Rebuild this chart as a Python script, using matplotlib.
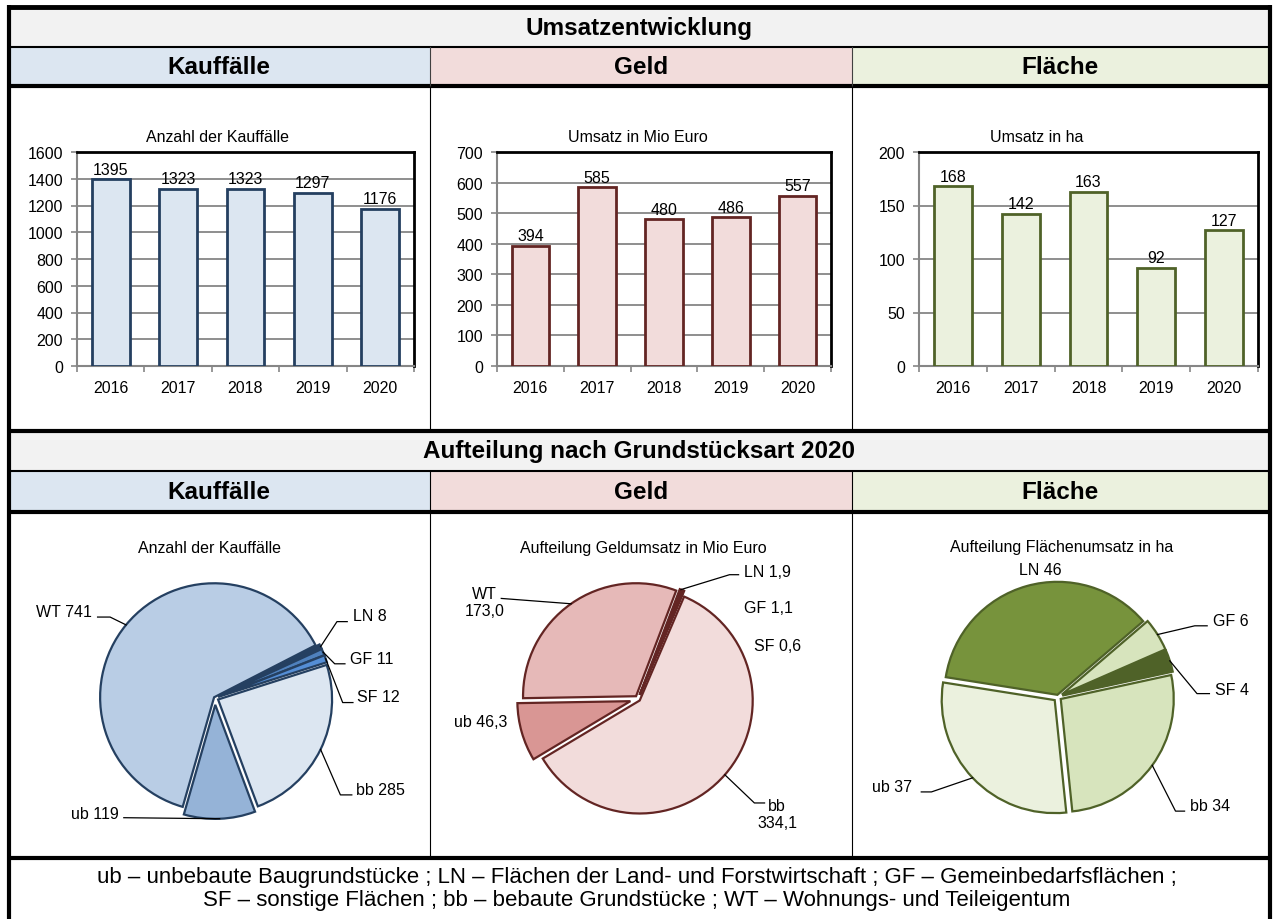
import matplotlib
matplotlib.use('Agg')
import matplotlib.pyplot as plt
from matplotlib.patches import Rectangle
import numpy as np

plt.rcParams['font.family'] = ['Liberation Sans', 'DejaVu Sans']

# --- Daten ---
jahre = ['2016', '2017', '2018', '2019', '2020']
kauffaelle = [1395, 1323, 1323, 1297, 1176]
geldumsatz = [394, 585, 480, 486, 557]
flaechenumsatz = [168, 142, 163, 92, 127]

arten_kf = ['WT', 'LN', 'GF', 'SF', 'bb', 'ub']
anteile_kf = [741, 8, 11, 12, 285, 119]
arten_geld = ['WT', 'LN', 'GF', 'SF', 'bb', 'ub']
anteile_geld = [173.0, 1.9, 1.1, 0.6, 334.1, 46.3]
arten_fl = ['LN', 'GF', 'SF', 'bb', 'ub']
anteile_fl = [46, 6, 4, 34, 37]

legende = ["ub \u2013 unbebaute Baugrundst\u00fccke ; LN \u2013 Fl\u00e4chen der Land- und Forstwirtschaft ; GF \u2013 Gemeinbedarfsfl\u00e4chen ;",
           "SF \u2013 sonstige Fl\u00e4chen ; bb \u2013 bebaute Grundst\u00fccke ; WT \u2013 Wohnungs- und Teileigentum"]

W, H = 1274, 920
fig = plt.figure(figsize=(W / 100, H / 100), dpi=100)


def fbox(l, t, r, b):
    return [l / W, 1 - b / H, (r - l) / W, (b - t) / H]


bg = fig.add_axes([0, 0, 1, 1])
bg.set_xlim(0, W)
bg.set_ylim(H, 0)
bg.axis('off')

# Zellen / Hintergruende
grau = '#f2f2f2'
blau, rot, gruen = '#dce6f1', '#f2dcdb', '#ebf1de'
spalten = [(9, 430), (430, 852), (852, 1269)]
for (y0, y1) in [(8, 48), (432, 472)]:
    bg.add_patch(Rectangle((9, y0), 1260, y1 - y0, color=grau, lw=0))
for (y0, y1) in [(48, 87), (472, 513)]:
    for (x0, x1), c in zip(spalten, [blau, rot, gruen]):
        bg.add_patch(Rectangle((x0, y0), x1 - x0, y1 - y0, color=c, lw=0))

kw = dict(color='k', solid_capstyle='butt')
# Rahmen
bg.plot([8.5, 8.5], [6, H], lw=3, **kw)
bg.plot([1269.5, 1269.5], [6, H], lw=3, **kw)
bg.plot([7, 1271], [7.5, 7.5], lw=3.5, **kw)
for y, lw in [(48, 1.5), (87, 3), (432, 3), (472, 1.5), (513, 3), (859, 3)]:
    bg.plot([8.5, 1269.5], [y, y], lw=lw, **kw)
for x in [430, 852]:
    bg.plot([x, x], [48, 87], color='#404040', lw=0.8)
    bg.plot([x, x], [87, 432], lw=0.8, **kw)
    bg.plot([x, x], [472, 859], lw=0.8, **kw)

# Ueberschriften
bg.text(639, 28, 'Umsatzentwicklung', ha='center', va='center', fontsize=17.5, fontweight='bold')
bg.text(639, 452, 'Aufteilung nach Grundst\u00fccksart 2020', ha='center', va='center', fontsize=17.5, fontweight='bold')
for y in [68, 493]:
    for xc, t in zip([219, 641, 1060], ['Kauff\u00e4lle', 'Geld', 'Fl\u00e4che']):
        bg.text(xc, y, t, ha='center', va='center', fontsize=17.5, fontweight='bold')

for i, z in enumerate(legende):
    bg.text(637, 878 + i * 23, z, ha='center', va='center', fontsize=16)

achse_grau = '#868686'


def balken(box, werte, ymax, schritt, fill, edge, titel, titel_xy):
    ax = fig.add_axes(fbox(*box))
    x = np.arange(len(jahre))
    ax.bar(x, werte, width=0.56, color=fill, edgecolor=edge, linewidth=2, zorder=3)
    ax.set_xlim(-0.5, len(jahre) - 0.5)
    ax.set_ylim(0, ymax)
    ax.set_yticks(np.arange(0, ymax + 1, schritt))
    ax.set_xticks(x)
    ax.set_xticklabels(jahre)
    ax.set_xticks(np.arange(-0.5, len(jahre), 1), minor=True)
    ax.tick_params(axis='x', which='major', length=0, pad=10, labelsize=11.5)
    ax.tick_params(axis='x', which='minor', length=4, color=achse_grau, width=1.2)
    ax.tick_params(axis='y', length=4, color=achse_grau, width=1.2, labelsize=11.5, pad=6)
    ax.grid(axis='y', color=achse_grau, lw=1.3, zorder=0)
    for s in ['top', 'right']:
        ax.spines[s].set_color('k')
        ax.spines[s].set_linewidth(2)
    for s in ['left', 'bottom']:
        ax.spines[s].set_color(achse_grau)
        ax.spines[s].set_linewidth(1.5)
    for xi, v in zip(x, werte):
        ax.text(xi, v + ymax * 0.012, str(v), ha='center', va='bottom', fontsize=11.5)
    bg.text(titel_xy[0], titel_xy[1], titel, ha='center', va='center', fontsize=11.5)


balken((77, 153, 414, 367), kauffaelle, 1600, 200, blau, '#243f60', 'Anzahl der Kauff\u00e4lle', (218, 138))
balken((497, 153, 831, 367), geldumsatz, 700, 100, rot, '#632523', 'Umsatz in Mio Euro', (638, 138))
balken((919, 153, 1258, 367), flaechenumsatz, 200, 50, gruen, '#4f6228', 'Umsatz in ha', (1037, 138))


def torte(mitte, R, werte, namen, texte, farben, edge, start, explode, lage, titel, titel_xy):
    k = 1.6
    cx, cy = mitte
    ax = fig.add_axes(fbox(cx - k * R, cy - k * R, cx + k * R, cy + k * R))
    wedges, _ = ax.pie(werte, colors=farben, startangle=start, counterclock=False,
                       explode=explode, radius=1,
                       wedgeprops=dict(edgecolor=edge, linewidth=1.6))
    ax.set_xlim(-k, k)
    ax.set_ylim(-k, k)
    ax.axis('off')
    for w, n, t in zip(wedges, namen, texte):
        tx, ty, ha, pfad = lage[n]
        ax.text(tx, ty, t, ha=ha, va='center', fontsize=11.5, multialignment='center')
        if pfad:
            mid = np.deg2rad((w.theta1 + w.theta2) / 2)
            ex = w.center[0] + w.r * np.cos(mid)
            ey = w.center[1] + w.r * np.sin(mid)
            px = [p[0] for p in pfad] + [ex]
            py = [p[1] for p in pfad] + [ey]
            ax.plot(px, py, color='k', lw=0.9, clip_on=False)
    bg.text(titel_xy[0], titel_xy[1], titel, ha='center', va='center', fontsize=11.5)


def fmt_komma(v):
    return ('%.1f' % v).replace('.', ',')


texte_kf = ['%s %d' % (n, v) for n, v in zip(arten_kf, anteile_kf)]
lage_kf = {
    'WT': (-1.08, 0.76, 'right', [(-1.03, 0.71), (-0.92, 0.71)]),
    'LN': (1.21, 0.72, 'left', [(1.16, 0.67), (1.07, 0.67)]),
    'GF': (1.18, 0.35, 'left', [(1.14, 0.30), (1.05, 0.30)]),
    'SF': (1.25, 0.01, 'left', [(1.21, -0.04), (1.12, -0.04)]),
    'bb': (1.24, -0.80, 'left', [(1.20, -0.85), (1.10, -0.85)]),
    'ub': (-0.84, -1.01, 'right', [(-0.80, -1.05)]),
}
torte((215, 699), 114, anteile_kf, arten_kf, texte_kf,
      ['#b9cde5', '#254061', '#4f81bd', '#558ed5', '#dce6f1', '#95b3d7'], '#254061',
      254, [0.01, 0.03, 0.03, 0.03, 0.03, 0.06], lage_kf, 'Anzahl der Kauff\u00e4lle', (210, 549))

texte_geld = []
for n, v in zip(arten_geld, anteile_geld):
    sep = '\n' if v > 100 else ' '
    texte_geld.append(n + sep + fmt_komma(v))
lage_geld = {
    'WT': (-1.36, 0.86, 'center', [(-1.21, 0.89)]),
    'LN': (0.94, 1.13, 'left', [(0.89, 1.10), (0.81, 1.10)]),
    'GF': (0.94, 0.81, 'left', None),
    'SF': (1.03, 0.47, 'left', None),
    'bb': (1.23, -1.02, 'center', [(1.12, -0.92), (1.03, -0.92)]),
    'ub': (-1.39, -0.20, 'center', None),
}
torte((638, 700), 113, anteile_geld, arten_geld, texte_geld,
      ['#e6b9b8', '#632523', '#953735', '#632523', '#f2dcdb', '#d99694'], '#632523',
      181, [0.03, 0.04, 0.04, 0.04, 0.02, 0.07], lage_geld, 'Aufteilung Geldumsatz in Mio Euro', (643, 549))

texte_fl = ['%s %d' % (n, v) for n, v in zip(arten_fl, anteile_fl)]
lage_fl = {
    'LN': (-0.16, 1.13, 'center', None),
    'GF': (1.37, 0.68, 'left', [(1.32, 0.63), (1.21, 0.63)]),
    'SF': (1.39, 0.07, 'left', [(1.34, 0.03), (1.23, 0.03)]),
    'bb': (1.17, -0.96, 'left', [(1.12, -1.01), (1.04, -1.01)]),
    'ub': (-1.29, -0.79, 'right', [(-1.21, -0.84), (-1.12, -0.84)]),
}
torte((1058, 698), 113, anteile_fl, arten_fl, texte_fl,
      ['#77933c', '#d7e4bd', '#4f6228', '#d7e4bd', '#ebf1de'], '#4f6228',
      171, [0.02, 0.04, 0.04, 0.03, 0.04], lage_fl, 'Aufteilung Fl\u00e4chenumsatz in ha', (1062, 548))

fig.savefig('out.png', dpi=100)
